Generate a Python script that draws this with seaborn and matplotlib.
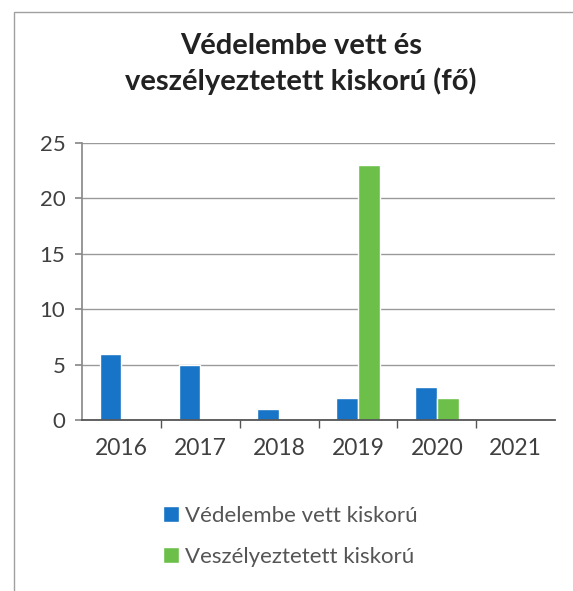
import pandas as pd
import matplotlib.pyplot as plt
import seaborn as sns
from matplotlib.patches import Rectangle
from matplotlib.ticker import FixedLocator

years = ['2016', '2017', '2018', '2019', '2020', '2021']
vedelembe = [6, 5, 1, 2, 3, 0]
veszelyeztetett = [0, 0, 0, 23, 2, 0]
series_names = ['Védelembe vett kiskorú', 'Veszélyeztetett kiskorú']
colors = ['#1874C6', '#6CC04A']
title = 'Védelembe vett és\nveszélyeztetett kiskorú (fő)'

df = pd.DataFrame({
    'Év': years * 2,
    'Fő': vedelembe + veszelyeztetett,
    'Sorozat': [series_names[0]] * len(years) + [series_names[1]] * len(years),
})

sns.set_theme(style='white')
plt.rcParams['font.family'] = ['Lato', 'DejaVu Sans']

fig = plt.figure(figsize=(5.73, 5.91), dpi=100)
ax = fig.add_axes([0.143, 0.289, 0.826, 0.469])

sns.barplot(data=df, x='Év', y='Fő', hue='Sorozat', palette=colors,
            width=0.55, gap=0, saturation=1, ax=ax, legend=True)

ax.set_ylim(0, 25)
ax.set_yticks(range(0, 26, 5))
ax.set_xlim(-0.5, len(years) - 0.5)
ax.yaxis.grid(True, color='#9a9a9a', linewidth=1)
ax.set_axisbelow(True)
ax.set_xlabel('')
ax.set_ylabel('')

for side in ['top', 'right']:
    ax.spines[side].set_visible(False)
ax.spines['left'].set_color('#8a8a8a')
ax.spines['bottom'].set_color('#555555')
ax.spines['bottom'].set_linewidth(1.3)

ax.tick_params(axis='y', which='major', length=5, color='#8a8a8a', direction='out',
               left=True, labelsize=16, labelcolor='#404040', pad=7)
ax.tick_params(axis='x', which='major', length=0, labelsize=16.5, labelcolor='#404040', pad=13)
ax.xaxis.set_minor_locator(FixedLocator([i + 0.5 for i in range(len(years) - 1)]))
ax.tick_params(axis='x', which='minor', length=6, color='#555555', direction='out', bottom=True)

handles, labels = ax.get_legend_handles_labels()
ax.get_legend().remove()
fig.legend(handles, labels, loc='upper left', bbox_to_anchor=(0.25, 0.178),
           ncol=1, frameon=False, fontsize=16, labelcolor='#555555',
           handlelength=0.7, handleheight=0.7, handletextpad=0.3, labelspacing=0.95)

fig.text(0.525, 0.945, title, ha='center', va='top', fontsize=21, fontweight='bold',
         color='#222222', linespacing=1.4)

fig.patches.append(Rectangle((0.024, -0.1), 1.2, 1.08, transform=fig.transFigure,
                             fill=False, edgecolor='#a0a0a0', linewidth=1))

fig.savefig('out.png', dpi=100)
